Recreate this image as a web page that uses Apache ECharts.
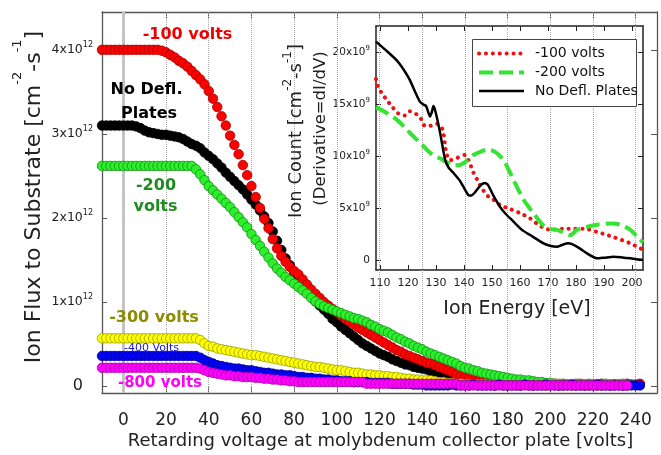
<!DOCTYPE html>
<html><head><meta charset="utf-8">
<script src="https://cdn.jsdelivr.net/npm/echarts@6/dist/echarts.min.js"></script>
<style>html,body{margin:0;padding:0;background:#fff}#c{width:661px;height:455px}</style>
</head><body><div id="c"></div>
<script>
const FONT = 'DejaVu Sans';

// ---- main chart: retarding voltage (V) vs ion flux (x10^12 cm^-2 s^-1)
const volts = [-10,-8,-6,-4,-2,0,2,4,6,8,10,12,14,16,18,20,22,24,26,28,30,32,34,36,38,40,42,44,46,48,50,52,54,56,58,60,62,64,66,68,70,72,74,76,78,80,82,84,86,88,90,92,94,96,98,100,102,104,106,108,110,112,114,116,118,120,122,124,126,128,130,132,134,136,138,140,142,144,146,148,150,152,154,156,158,160,162,164,166,168,170,172,174,176,178,180,182,184,186,188,190,192,194,196,198,200,202,204,206,208,210,212,214,216,218,220,222,224,226,228,230,232,234,236,238,240,242];

const fluxNoDefl = [
3.10,3.10,3.10,3.10,3.10,3.10,3.10,3.10,3.09,3.07,
3.04,3.02,3.01,3.00,2.99,2.99,2.98,2.97,2.96,2.94,
2.91,2.88,2.86,2.83,2.78,2.74,2.70,2.65,2.60,2.54,
2.49,2.44,2.39,2.34,2.28,2.22,2.16,2.09,2.02,1.94,
1.84,1.73,1.62,1.52,1.44,1.36,1.29,1.22,1.15,1.08,
1.01,0.96,0.91,0.86,0.80,0.76,0.71,0.67,0.63,0.59,
0.55,0.51,0.48,0.45,0.42,0.39,0.37,0.35,0.32,0.30,
0.28,0.26,0.25,0.23,0.22,0.21,0.20,0.18,0.16,0.14,
0.12,0.10,0.08,0.06,0.05,0.04,0.03,0.03,0.02,0.02,
0.02,0.02,0.01,0.02,0.02,0.01,0.02,0.02,0.01,0.02,
0.02,0.01,0.02,0.02,0.01,0.02,0.02,0.01,0.02,0.02,
0.01,0.02,0.02,0.01,0.02,0.02,0.01,0.02,0.02,0.01,
0.02,0.02,0.01,0.02,null,null,null];

const flux100 = [
4.00,4.00,4.00,4.00,4.00,4.00,4.00,4.00,4.00,4.00,
4.00,4.00,4.00,4.00,3.99,3.97,3.94,3.91,3.87,3.84,
3.80,3.75,3.70,3.65,3.59,3.51,3.42,3.32,3.21,3.10,
2.98,2.87,2.76,2.63,2.51,2.38,2.25,2.12,1.99,1.88,
1.75,1.64,1.55,1.48,1.42,1.37,1.33,1.27,1.21,1.15,
1.10,1.05,1.00,0.96,0.92,0.88,0.84,0.80,0.77,0.74,
0.70,0.67,0.64,0.61,0.58,0.55,0.52,0.49,0.46,0.43,
0.41,0.38,0.36,0.34,0.32,0.30,0.28,0.27,0.25,0.23,
0.21,0.19,0.17,0.14,0.12,0.10,0.09,0.07,0.06,0.05,
0.05,0.04,0.04,0.03,0.03,0.03,0.02,0.03,0.02,0.02,
0.02,0.03,0.02,0.02,0.02,0.02,0.03,0.02,0.02,0.02,
0.02,0.02,0.03,0.02,0.02,0.02,0.02,0.03,0.02,0.02,
0.02,0.02,0.02,0.03,0.02,0.02,0.03];

const flux200 = [
2.62,2.62,2.62,2.62,2.62,2.62,2.62,2.62,2.62,2.62,
2.62,2.62,2.62,2.62,2.62,2.62,2.62,2.62,2.62,2.62,
2.62,2.62,2.58,2.52,2.45,2.38,2.33,2.28,2.23,2.18,
2.13,2.07,2.01,1.95,1.89,1.81,1.74,1.67,1.60,1.53,
1.46,1.40,1.35,1.30,1.26,1.22,1.18,1.14,1.10,1.05,
1.01,0.98,0.95,0.93,0.91,0.89,0.87,0.85,0.83,0.81,
0.80,0.78,0.76,0.73,0.71,0.68,0.66,0.64,0.61,0.58,
0.56,0.53,0.51,0.48,0.46,0.44,0.41,0.39,0.37,0.35,
0.33,0.31,0.29,0.27,0.24,0.22,0.21,0.19,0.18,0.16,
0.15,0.14,0.13,0.12,0.11,0.10,0.09,0.08,0.08,0.07,
0.07,0.06,0.05,0.05,0.04,0.04,0.03,0.03,0.03,0.02,
0.02,0.03,0.02,0.02,0.03,0.02,0.02,0.02,0.03,0.02,
0.02,0.02,0.03,0.02,0.02,null,null];

const flux300 = [
0.57,0.57,0.57,0.57,0.57,0.57,0.57,0.57,0.57,0.57,
0.57,0.57,0.57,0.57,0.57,0.57,0.57,0.57,0.57,0.57,
0.57,0.57,0.57,0.55,0.51,0.48,0.47,0.45,0.44,0.43,
0.42,0.41,0.40,0.39,0.38,0.37,0.37,0.36,0.35,0.34,
0.33,0.32,0.31,0.30,0.29,0.28,0.27,0.26,0.25,0.24,
0.23,0.23,0.22,0.21,0.20,0.19,0.19,0.18,0.17,0.16,
0.16,0.15,0.14,0.14,0.13,0.13,0.12,0.12,0.11,0.11,
0.10,0.09,0.09,0.08,0.08,0.07,0.07,0.07,0.06,0.05,
0.05,0.04,0.04,0.03,0.03,0.02,0.02,0.02,0.02,0.02,
0.02,0.02,0.02,0.02,0.02,0.02,0.02,0.02,0.02,0.02,
0.02,0.01,0.02,0.02,0.01,0.02,0.02,0.02,0.01,0.02,
0.02,0.01,0.02,0.02,0.01,0.02,0.02,0.01,0.02,0.02,
0.01,0.02,0.02,0.01,null,null,null];

const flux400 = [
0.36,0.36,0.36,0.36,0.36,0.36,0.36,0.36,0.36,0.36,
0.36,0.36,0.36,0.36,0.36,0.36,0.36,0.36,0.36,0.36,
0.36,0.36,0.36,0.34,0.31,0.29,0.27,0.25,0.24,0.23,
0.22,0.21,0.21,0.20,0.19,0.19,0.18,0.17,0.16,0.16,
0.15,0.14,0.14,0.13,0.13,0.12,0.11,0.11,0.10,0.10,
0.09,0.09,0.08,0.08,0.07,0.07,0.06,0.06,0.06,0.05,
0.05,0.05,0.05,0.04,0.04,0.04,0.04,0.04,0.03,0.03,
0.03,0.03,0.03,0.02,0.02,0.02,0.01,0.01,0.01,0.01,
0.01,0.01,0.02,0.01,0.01,0.01,0.01,0.02,0.01,0.01,
0.01,0.01,0.01,0.02,0.01,0.01,0.01,0.01,0.01,0.02,
0.01,0.01,0.01,0.01,0.02,0.01,0.01,0.01,0.01,0.01,
0.02,0.01,0.01,0.01,0.01,0.01,0.02,0.01,0.01,0.01,
0.01,0.01,0.01,0.01,0.01,0.01,0.01];

const flux800 = [
0.22,0.22,0.22,0.22,0.22,0.22,0.22,0.22,0.22,0.22,
0.22,0.22,0.22,0.22,0.22,0.22,0.22,0.22,0.22,0.22,
0.22,0.22,0.22,0.21,0.19,0.17,0.16,0.15,0.14,0.13,
0.13,0.12,0.12,0.11,0.11,0.11,0.10,0.10,0.09,0.09,
0.08,0.08,0.07,0.07,0.06,0.06,0.05,0.05,0.05,0.05,
0.05,0.05,0.05,0.05,0.05,0.05,0.05,0.05,0.05,0.05,
0.05,0.05,0.03,0.03,0.03,0.03,0.03,0.03,0.03,0.03,
0.03,0.03,0.03,0.03,0.03,0.03,0.03,0.03,0.03,0.03,
0.03,0.03,0.03,0.03,0.01,0.01,0.01,0.01,0.01,0.01,
0.01,0.01,0.01,0.01,0.01,0.01,0.01,0.01,0.01,0.01,
0.01,0.01,0.01,0.01,0.01,0.01,0.01,0.01,0.01,0.01,
0.01,0.01,0.01,0.01,0.01,0.01,0.01,0.01,0.01,0.01,
0.01,0.01,0.01,0.01,null,null,null];

const xTicks = [0,20,40,60,80,100,120,140,160,180,200,220,240];
const yTicks = [0,1,2,3,4];

// ---- inset: ion energy (eV) vs ion count (x10^9)
const insetBlackE = [108.6,112,116,118.5,120.7,122.5,124.3,125.5,126.5,127.9,128.5,129.1,129.8,131.5,133.3,134.5,136.5,138.6,140.5,141.8,142.6,144.2,146,147.5,148.6,150.5,152.9,155,157.1,160.7,163.6,168.4,171,173.2,175,177.3,180.3,183.9,187.5,190,193.4,196.5,199.4,203.9];
const insetBlackV = [21.0,20.2,19.2,18.3,17.3,16.2,15.2,14.95,14.8,13.8,14.2,14.8,14.3,12.2,9.6,8.9,8.3,7.6,6.7,6.2,6.2,6.6,7.2,7.4,7.2,6.2,5.1,4.4,3.85,2.9,2.4,1.6,1.35,1.28,1.45,1.6,1.28,0.64,0.16,0.22,0.32,0.25,0.16,0.0];
const insetRedE = [108.6,109.4,110.8,112.4,114.2,116.5,118.9,120.7,123.1,124.6,126.1,127.9,130.3,132.1,132.8,133.2,133.9,135,137.4,140.4,141.6,143.4,145.2,146.9,148.7,150.5,152.9,156.5,160.1,163.6,166,168.4,171,175.6,179,183,187.5,190.5,193.4,196.5,199.4,202,203.9];
const insetRedV = [17.4,16.6,16.0,15.4,14.8,14.1,13.9,14.3,14.0,13.6,12.9,12.9,13.1,12.7,12.0,11.2,10.1,9.6,9.8,10.1,9.6,8.4,7.5,6.7,6.1,5.8,5.3,4.9,4.5,4.0,3.5,3.1,2.9,3.0,3.0,3.0,2.7,2.45,2.2,1.9,1.6,1.25,1.0];
const insetGreenE = [108.6,112,116,119,121.9,125,127.9,130.5,132.6,134.5,136.2,138,139.8,141.6,143.4,145.8,148.2,151.1,154.1,155.9,157.7,161.3,164.8,168.4,170.5,173.2,176,178,180.3,184,187.5,192.3,195.8,199.4,202,203.9];
const insetGreenV = [14.7,14.2,13.5,12.7,11.9,11.1,10.3,9.9,9.6,9.3,9.1,9.1,9.3,9.7,10.1,10.4,10.6,10.4,9.6,8.7,7.7,5.8,4.5,3.3,3.0,2.9,2.6,2.4,2.9,3.2,3.4,3.5,3.4,2.9,2.2,1.7];
const insetXTicks = [110,120,130,140,150,160,170,180,190,200];
const insetYTicks = [0,5,10,15,20];
const legendNames = ['-100 volts', '-200 volts', 'No Defl. Plates'];

function pairs(xs, ys) {
  const out = [];
  for (let i = 0; i < xs.length; i++) if (ys[i] !== null && ys[i] !== undefined) out.push([xs[i], ys[i]]);
  return out;
}

const chart = echarts.init(document.getElementById('c'), null, {renderer: 'canvas'});

const mainLine = {show: true, onZero: false, lineStyle: {color: '#555', width: 1.3}};
const insetLine = {show: true, onZero: false, lineStyle: {color: '#222', width: 1.5}};
const noSplit = {show: false};

const RED_DOT = {color: '#ee1111', width: 4, dash: [0.1, 6.8], cap: 'round'};
const GREEN_DASH = {color: '#33e433', width: 4, dash: [14, 6], cap: 'butt'};
const BLACK_SOLID = {color: '#000000', width: 2.5, dash: null, cap: 'butt'};

function scatterSeries(name, data, fill, border) {
  return {
    name: name, type: 'scatter', xAxisIndex: 0, yAxisIndex: 0,
    data: pairs(volts, data), symbol: 'circle', symbolSize: 9.5, clip: false,
    itemStyle: {color: fill, borderColor: border, borderWidth: 0.8, opacity: 1},
    emphasis: {disabled: true}, z: 3
  };
}

function insetSeries(name, xs, ys, st, smooth) {
  return {name: name, type: 'line', xAxisIndex: 2, yAxisIndex: 2, data: pairs(xs, ys),
    symbol: 'none', smooth: smooth, z: 5, emphasis: {disabled: true},
    lineStyle: {color: st.color, width: st.width, type: st.dash || 'solid', cap: st.cap}};
}

function txt(x, y, text, size, color, weight, align) {
  return {type: 'text', x: x, y: y, z: 100, silent: true,
    style: {text: text, fontFamily: FONT, fontSize: size, fontWeight: weight || 'normal',
      fill: color, align: align || 'center', verticalAlign: 'middle'}};
}

function legendRow(y, label, st) {
  return [
    {type: 'line', z: 101, silent: true, shape: {x1: 479, y1: y, x2: 524, y2: y},
      style: {stroke: st.color, lineWidth: st.width, lineDash: st.dash, lineCap: st.cap}},
    txt(535, y, label, 14, '#111', 'normal', 'left')
  ];
}

const option = {
  animation: false,
  backgroundColor: '#fff',
  grid: [
    {left: 102, top: 12, right: 4, bottom: 62, containLabel: false, outerBoundsMode: 'none'},
    {left: 376, top: 26, right: 18, bottom: 185, containLabel: false, outerBoundsMode: 'none'}
  ],
  xAxis: [
    {type: 'value', gridIndex: 0, position: 'bottom', min: -10, max: 250,
      axisLine: mainLine, splitLine: noSplit,
      axisTick: {show: true, inside: true, length: 6, customValues: xTicks, lineStyle: {color: '#555'}},
      axisLabel: {customValues: xTicks, margin: 19, fontFamily: FONT, fontSize: 17, color: '#222'}},
    {type: 'value', gridIndex: 0, position: 'top', min: -10, max: 250,
      axisLine: mainLine, splitLine: noSplit,
      axisTick: {show: true, inside: true, length: 6, customValues: xTicks, lineStyle: {color: '#555'}},
      axisLabel: {show: false}},
    {type: 'value', gridIndex: 1, position: 'bottom', min: 108.6, max: 203.9,
      axisLine: insetLine, splitLine: noSplit,
      axisTick: {show: true, inside: true, length: 5, customValues: insetXTicks, lineStyle: {color: '#222'}},
      axisLabel: {customValues: insetXTicks, margin: 8, fontFamily: FONT, fontSize: 11, color: '#222'}},
    {type: 'value', gridIndex: 1, position: 'top', min: 108.6, max: 203.9,
      axisLine: insetLine, splitLine: noSplit,
      axisTick: {show: true, inside: true, length: 5, customValues: insetXTicks, lineStyle: {color: '#222'}},
      axisLabel: {show: false}}
  ],
  yAxis: [
    {type: 'value', gridIndex: 0, position: 'left', min: -0.08, max: 4.45,
      axisLine: mainLine, splitLine: noSplit,
      axisTick: {show: true, inside: true, length: 5, customValues: yTicks, lineStyle: {color: '#555'}},
      axisLabel: {customValues: yTicks, margin: 9,
        formatter: function (v) { return v === 0 ? '{z|0}' : '{b|' + v + 'x10}{s|12}'; },
        rich: {
          z: {fontFamily: FONT, fontSize: 16, color: '#222', lineHeight: 18, padding: [0, 10, 0, 0]},
          b: {fontFamily: FONT, fontSize: 12.5, color: '#222', lineHeight: 18},
          s: {fontFamily: FONT, fontSize: 8, color: '#222', lineHeight: 9, verticalAlign: 'top'}
        }}},
    {type: 'value', gridIndex: 0, position: 'right', min: -0.08, max: 4.45,
      axisLine: mainLine, splitLine: noSplit,
      axisTick: {show: true, inside: true, length: 6, customValues: yTicks, lineStyle: {color: '#555'}},
      axisLabel: {show: false}},
    {type: 'value', gridIndex: 1, position: 'left', min: -0.96, max: 22.5,
      axisLine: insetLine, splitLine: noSplit,
      axisTick: {show: true, inside: true, length: 5, customValues: insetYTicks, lineStyle: {color: '#222'}},
      axisLabel: {customValues: insetYTicks, margin: 6,
        formatter: function (v) { return v === 0 ? '{b|0}' : '{b|' + v + 'x10}{s|9}'; },
        rich: {
          b: {fontFamily: FONT, fontSize: 10.5, color: '#222', lineHeight: 15},
          s: {fontFamily: FONT, fontSize: 7, color: '#222', lineHeight: 8, verticalAlign: 'top'}
        }}},
    {type: 'value', gridIndex: 1, position: 'right', min: -0.96, max: 22.5,
      axisLine: insetLine, splitLine: noSplit,
      axisTick: {show: true, inside: true, length: 5, customValues: insetYTicks, lineStyle: {color: '#222'}},
      axisLabel: {show: false}}
  ],
  series: [
    {name: 'grid', type: 'line', xAxisIndex: 0, yAxisIndex: 0, data: [], z: 1, silent: true,
      markLine: {silent: true, symbol: ['none', 'none'], z: 1, animation: false,
        label: {show: false}, emphasis: {disabled: true},
        lineStyle: {type: 'dotted', color: '#a8a8a8', width: 1},
        data: xTicks.filter(function (v) { return v !== 0; }).map(function (v) { return {xAxis: v}; })
          .concat([{xAxis: 0, lineStyle: {type: 'solid', color: '#c4c4c4', width: 3}}])}},
    scatterSeries('Flux No Defl.', fluxNoDefl, '#000000', '#000000'),
    scatterSeries('Flux -100', flux100, '#ff0000', '#a30000'),
    scatterSeries('Flux -200', flux200, '#2cf02c', '#158a15'),
    scatterSeries('Flux -300', flux300, '#ffff00', '#9a9a00'),
    scatterSeries('Flux -400', flux400, '#0000ff', '#00008a'),
    scatterSeries('Flux -800', flux800, '#ff00ff', '#a000a0'),
    insetSeries(legendNames[0], insetRedE, insetRedV, RED_DOT, 0.3),
    insetSeries(legendNames[1], insetGreenE, insetGreenV, GREEN_DASH, 0.3),
    insetSeries(legendNames[2], insetBlackE, insetBlackV, BLACK_SOLID, 0.2)
  ],
  graphic: [
    txt(187.5, 35, '-100 volts', 16, '#ee0000', 'bold'),
    txt(146.5, 90, 'No Defl.', 16, '#000000', 'bold'),
    txt(149, 113.5, 'Plates', 16, '#000000', 'bold'),
    txt(156, 186, '-200', 16, '#1e8c1e', 'bold'),
    txt(155.5, 207, 'volts', 16, '#1e8c1e', 'bold'),
    txt(154, 318, '-300 volts', 16, '#8c8c00', 'bold'),
    txt(151.5, 348.5, '-400 Volts', 11, '#1a1acc', 'normal'),
    txt(160, 383, '-800 volts', 15, '#ff00ff', 'bold'),
    txt(380.5, 441, 'Retarding voltage at molybdenum collector plate [volts]', 18, '#222'),
    txt(517, 309, 'Ion Energy [eV]', 19, '#222'),
    {type: 'text', x: 34, y: 197, rotation: Math.PI / 2, z: 100, silent: true,
      style: {text: 'Ion Flux to Substrate [cm{s|-2}-s{s|-1}]', fontFamily: FONT, fontSize: 22, lineHeight: 45,
        fill: '#222', align: 'center', verticalAlign: 'middle',
        rich: {s: {fontFamily: FONT, fontSize: 13, lineHeight: 13, verticalAlign: 'top', fill: '#222'}}}},
    {type: 'text', x: 296, y: 131, rotation: Math.PI / 2, z: 100, silent: true,
      style: {text: 'Ion Count [cm{s|-2}-s{s|-1}]', fontFamily: FONT, fontSize: 18, lineHeight: 28,
        fill: '#222', align: 'center', verticalAlign: 'middle',
        rich: {s: {fontFamily: FONT, fontSize: 12, lineHeight: 12, verticalAlign: 'top', fill: '#222'}}}},
    {type: 'text', x: 321, y: 128.5, rotation: Math.PI / 2, z: 100, silent: true,
      style: {text: '(Derivative=dI/dV)', fontFamily: FONT, fontSize: 16.5,
        fill: '#222', align: 'center', verticalAlign: 'middle'}},
    {type: 'rect', z: 100, silent: true, shape: {x: 472.5, y: 39.5, width: 164, height: 67},
      style: {fill: '#fff', stroke: '#444', lineWidth: 1}}
  ].concat(legendRow(53.5, legendNames[0], RED_DOT))
   .concat(legendRow(72.5, legendNames[1], GREEN_DASH))
   .concat(legendRow(91, legendNames[2], BLACK_SOLID))
};
chart.setOption(option);
</script>
</body></html>
